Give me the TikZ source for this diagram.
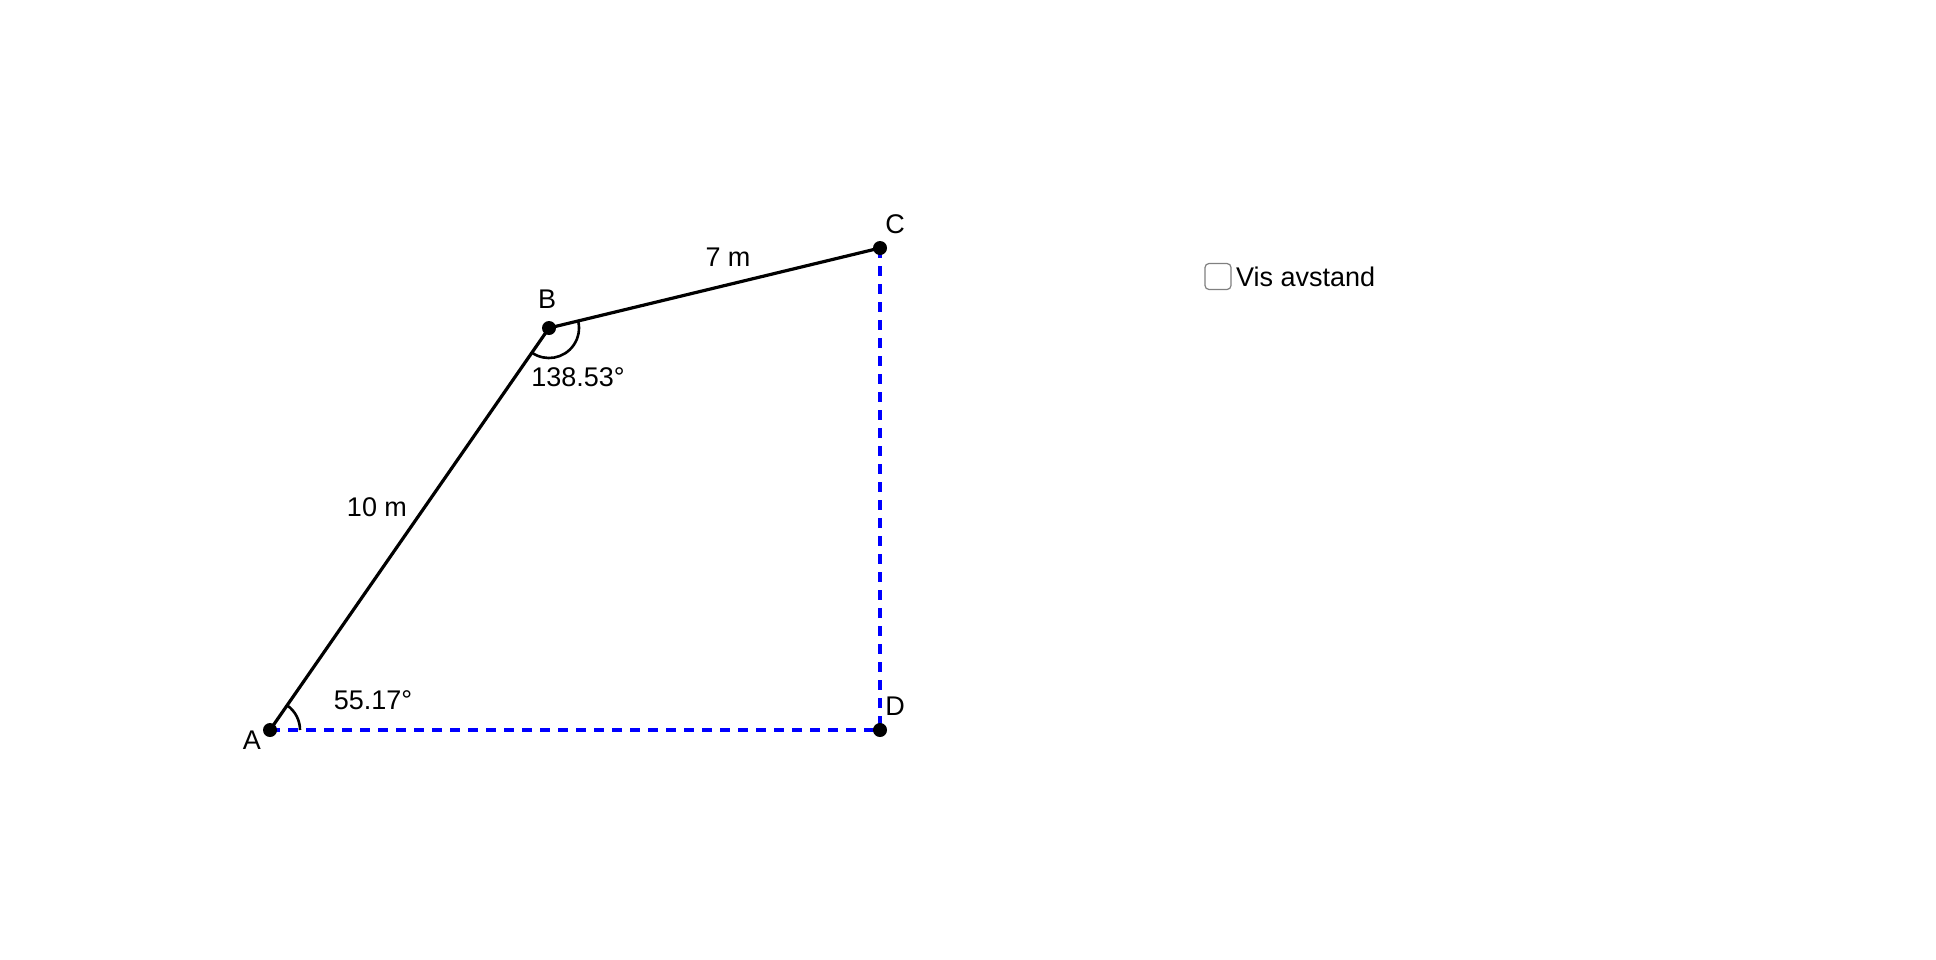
\documentclass[tikz,border=0pt]{standalone}
\usepackage{fontspec}
\setmainfont{Liberation Sans}
\usetikzlibrary{positioning}

\begin{document}
\begin{tikzpicture}[x=0.5pt,y=-0.5pt,
  pt/.style={circle,fill=black,inner sep=0pt,minimum size=7pt},
  lbl/.style={font=\fontsize{13.5}{16}\selectfont,inner sep=0pt},
  side/.style={line width=1.6pt},
  proj/.style={blue,line width=1.7pt,dash pattern=on 5pt off 4pt},
  angarc/.style={line width=1.3pt}]
\useasboundingbox (0,0) rectangle (1936,959);

% points
\coordinate (A) at (270,730);
\coordinate (B) at (549,328);
\coordinate (C) at (880,248);
\coordinate (D) at (880,730);

% dashed projection lines
\draw[proj] (A) -- (D);
\draw[proj] (C) -- (D);

% sides
\draw[side] (A) -- (B);
\draw[side] (B) -- (C);

% angle marks
\draw[angarc] ([shift={(0:15pt)}]A) arc[start angle=0,end angle=55.17,radius=15pt];
\draw[angarc] ([shift={(-124.83:15pt)}]B) arc[start angle=-124.83,end angle=13.7,radius=15pt];

% draw dots
\foreach \p in {A,B,C,D}
\node[pt] (dot\p) at (\p) {};

% draw labels
\node[lbl] (labA) at (252,740) {A};
\node[lbl] (labB) at (547,299) {B};
\node[lbl] (labC) at (895,224) {C};
\node[lbl] (labD) at (895,706) {D};

\node[lbl] (lenAB) at (377,507) {10 m};
\node[lbl] (lenBC) at (728,257) {7 m};
\node[lbl] (angA) at (373,700) {55.17°};
\node[lbl] (angB) at (578,377) {138.53°};

% checkbox
\node[draw=gray,line width=0.6pt,rounded corners=2pt,minimum size=13pt,inner sep=0pt] (box) at (1218,276.5) {};
\node[lbl,right=2pt of box] (vis) {Vis avstand};

\end{tikzpicture}
\end{document}
